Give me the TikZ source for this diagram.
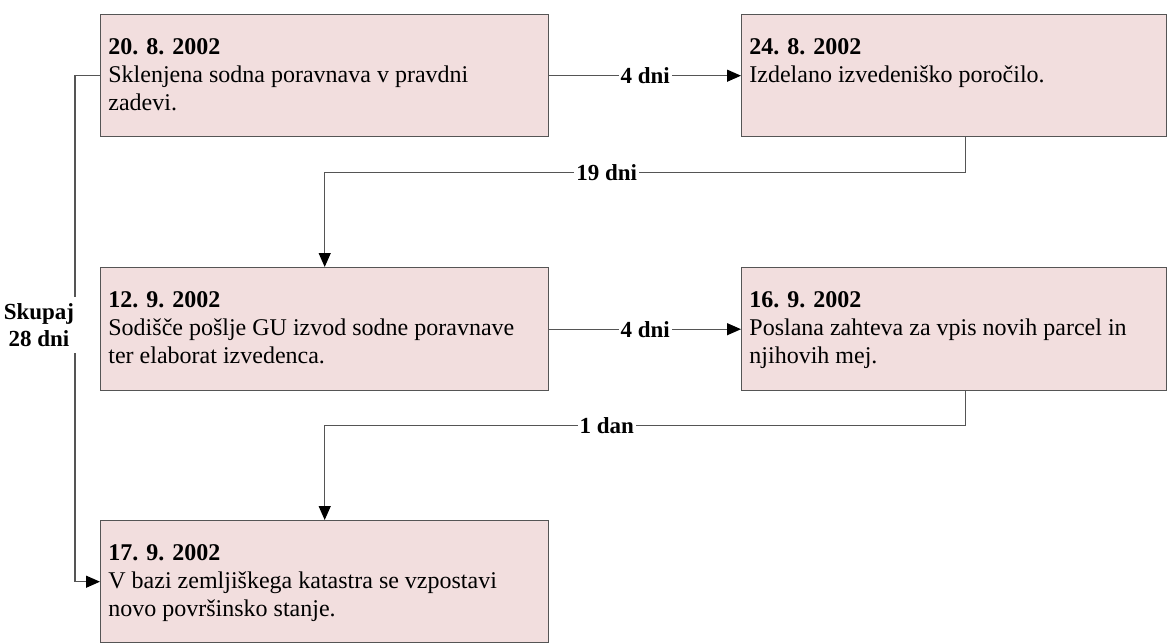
\documentclass[tikz,border=0pt]{standalone}
\usepackage{fontspec}
\setmainfont{Liberation Serif}
\usetikzlibrary{arrows.meta}
\definecolor{boxfill}{RGB}{242,222,222}
\definecolor{linegray}{RGB}{85,85,85}
\tikzset{
	box/.style={draw=linegray, fill=boxfill, line width=0.7pt, anchor=north west, inner sep=0pt},
	txt/.style={anchor=north west, inner sep=0pt, align=left, font=\fontsize{12}{14}\selectfont},
	conn/.style={draw=linegray, line width=0.6pt, -{Triangle[length=7pt,width=6pt,black]}},
	lbl/.style={fill=white, inner sep=1pt, font=\fontsize{11.5}{13.5}\selectfont\bfseries}
}
\begin{document}
\begin{tikzpicture}[x=0.5pt,y=-0.5pt]
			\useasboundingbox (0,0) rectangle (1176,642);
			\node[box, minimum width=224pt, minimum height=61pt] (b1) at (100,14) {};
			\node[box, minimum width=212.5pt, minimum height=61pt] (b2) at (741,14) {};
			\node[box, minimum width=224pt, minimum height=61.5pt] (b3) at (100,267) {};
			\node[box, minimum width=212.5pt, minimum height=61.5pt] (b4) at (741,267) {};
			\node[box, minimum width=224pt, minimum height=61pt] (b5) at (100,520) {};
			\node[txt] (t1) at ([shift={(4pt,-12pt)}]b1.north west) {\textbf{20. 8. 2002}\\Sklenjena sodna poravnava v pravdni\\zadevi.};
			\node[txt] (t2) at ([shift={(4pt,-12pt)}]b2.north west) {\textbf{24. 8. 2002}\\Izdelano izvedeniško poročilo.};
			\node[txt] (t3) at ([shift={(4pt,-12pt)}]b3.north west) {\textbf{12. 9. 2002}\\Sodišče pošlje GU izvod sodne poravnave\\ter elaborat izvedenca.};
			\node[txt] (t4) at ([shift={(4pt,-12pt)}]b4.north west) {\textbf{16. 9. 2002}\\Poslana zahteva za vpis novih parcel in\\njihovih mej.};
			\node[txt] (t5) at ([shift={(4pt,-12pt)}]b5.north west) {\textbf{17. 9. 2002}\\V bazi zemljiškega katastra se vzpostavi\\novo površinsko stanje.};
			\draw[conn] (b1.east) -- node[lbl]{4 dni} (b2.west);
			\draw[conn] ([xshift=5.75pt]b2.south) -- ++(0,35) -| node[lbl,pos=0.28]{19 dni} (b3.north);
			\draw[conn] (b3.east) -- node[lbl]{4 dni} (b4.west);
			\draw[conn] ([xshift=5.75pt]b4.south) -- ++(0,34) -| node[lbl,pos=0.28]{1 dan} (b5.north);
			\draw[conn] (b1.west) -- ++(-25,0) |- (b5.west);
			\node[lbl, align=center, minimum width=42pt, inner sep=3pt] (sum) at (39,325) {Skupaj\\28 dni};
\end{tikzpicture}
\end{document}
